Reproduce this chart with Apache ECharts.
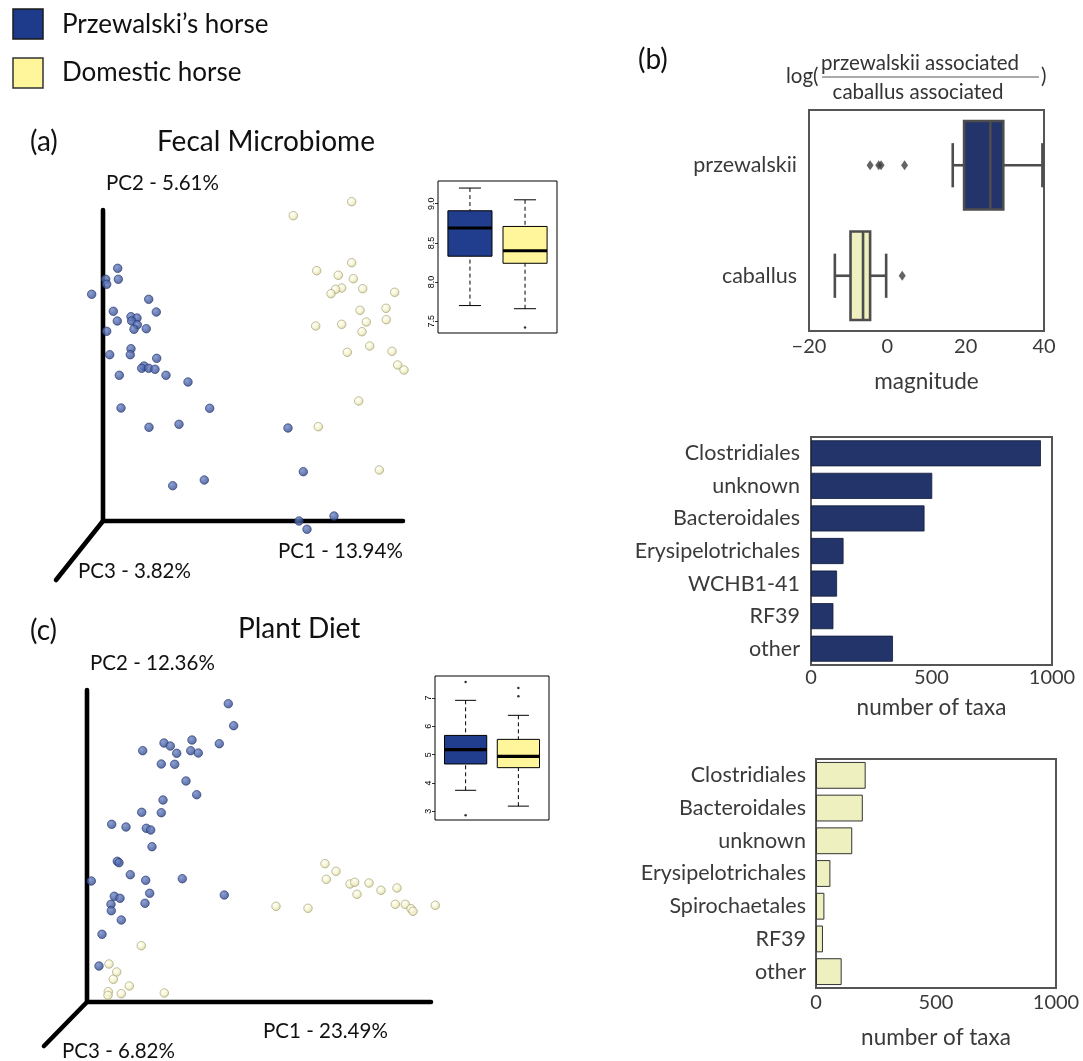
<!DOCTYPE html>
<html>
<head>
<meta charset="utf-8">
<script src="https://cdn.jsdelivr.net/npm/echarts@6/dist/echarts.min.js"></script>
<style>html,body{margin:0;padding:0;background:#fff}#main{width:1083px;height:1061px}</style>
</head>
<body>
<div id="main"></div>
<script>
// ---------------- DATA ----------------
const legendNames = ['Przewalski\u2019s horse', 'Domestic horse'];

// (a) Fecal microbiome PCoA, projected coordinates (origin at axes corner)
const fecalPrzewalski = [
  [14.7,252.7],[2.7,241.7],[15.3,241.7],[3.7,236.7],[-11.3,226.7],[45.7,221.7],[10.3,209.7],[53.3,209],
  [28,204.3],[34,203],[14.3,200],[28.7,200],[34.3,196.3],[31,191.7],[43.3,192.3],[3.7,189.7],
  [28,172.3],[27.3,166.3],[6.7,166.3],[53.7,162.7],[41,155],[38.7,152.7],[45.7,152.7],[52,151.7],
  [16.3,145.7],[63,145.7],[85,139],[18,113],[106.7,112.7],[46,93.7],[76,96.7],[69.7,35.3],
  [101.3,41],[185,93],[200.3,49.3],[231,5],[196,0],[204,-8.3]
];
const fecalDomestic = [
  [248.7,319.3],[190.3,305.3],[248.7,258.3],[213.7,250.3],[235.3,245.7],[250.3,242.3],[238.7,233],
  [232.7,231.7],[259.7,232.3],[228,227.3],[291.7,228.7],[257,210.7],[283,212.7],[283.3,201.3],
  [263.3,199],[212.7,195],[238.7,196.7],[259,189.3],[266.7,175],[244.3,168.7],[289,169.7],
  [294.7,156],[301,151],[255.7,120],[215.3,94.3],[276.3,51]
];
const fecalAxesMain = [[0,311],[0,0],[300,0]];
const fecalAxesDiag = [[0,0],[-47,-59]];

// (c) Plant diet PCoA
const dietPrzewalski = [
  [141.3,298.3],[146.7,276.3],[77,259],[83.3,256],[105,262],[132.3,258.3],[55.7,251.3],[89.7,248.7],
  [103.7,251.3],[111.3,249],[74.3,238],[87.7,237.7],[99,221],[109.7,207.3],[76,202],[54.7,189.7],
  [74.3,189.3],[24.7,177.7],[39,175],[59.3,173.7],[63.7,172],[65,155.3],[30.3,140.7],[32,139.3],
  [43.3,127.3],[4.3,121],[58.7,121.7],[95.3,123.3],[27.3,105.7],[33,103.7],[62.7,108.7],[137.3,107],
  [24,97.7],[24.3,91.3],[58,98.7],[34.3,82],[15,67.7],[12,36]
];
const dietDomestic = [
  [238,138.3],[249,130.7],[239.3,122.7],[263,118],[267.7,119.7],[282,119],[294,111.7],[310,114],
  [270,107.7],[189,95.7],[221,93.7],[308.3,97.7],[318.3,97.7],[324,93.3],[326,90.7],[348.3,96.7],
  [54.3,56.3],[22,38],[29.7,30],[26.3,22.7],[42.3,16],[21.3,10.3],[21,6.7],[34.3,8.3],[77.3,9]
];
const dietAxesMain = [[0,312],[0,0],[344,0]];
const dietAxesDiag = [[0,0],[-43,-44]];

// inset boxplots: [group, min, q1, median, q3, max]
const fecalBox = [[1,7.70,8.33,8.69,8.91,9.20],[2,7.66,8.24,8.40,8.71,9.05]];
const fecalOutliers = [[2,7.42]];
const fecalTicks = [7.5,8.0,8.5,9.0];
const dietBox = [[1,3.74,4.67,5.18,5.68,6.92],[2,3.18,4.54,4.94,5.54,6.39]];
const dietOutliers = [[1,7.57],[1,2.86],[2,7.36],[2,7.06]];
const dietTicks = [3,4,5,6,7];

// (b) log-ratio boxplot: [categoryIndex, min, q1, median, q3, max]
const ratioCategories = ['przewalskii','caballus'];
const ratioBox = [[0,16.7,19.6,26.3,29.6,39.6],[1,-13.4,-9.4,-6.2,-4.4,-0.3]];
const ratioOutliers = [[-4.4,0],[-2.2,0],[-1.6,0],[4.4,0],[3.8,1]];

// taxa counts
const przTaxaCats = ['Clostridiales','unknown','Bacteroidales','Erysipelotrichales','WCHB1-41','RF39','other'];
const przTaxaVals = [954,503,471,135,108,93,340];
const cabTaxaCats = ['Clostridiales','Bacteroidales','unknown','Erysipelotrichales','Spirochaetales','RF39','other'];
const cabTaxaVals = [207,195,151,60,35,29,107];

// ---------------- CHART ----------------
const FONT = 'Lato, "Open Sans", sans-serif';
const BLUE_SPHERE = {type:'radial',x:0.38,y:0.35,r:0.75,colorStops:[{offset:0,color:'#7188c6'},{offset:0.55,color:'#4660a5'},{offset:1,color:'#283d7c'}]};
const YEL_SPHERE = {type:'radial',x:0.38,y:0.35,r:0.75,colorStops:[{offset:0,color:'#ffffff'},{offset:0.5,color:'#f4f2c8'},{offset:1,color:'#c3c093'}]};

function rBox(colors){
  return function(params, api){
    const x = api.value(0), lo = api.value(1), q1 = api.value(2), med = api.value(3), q3 = api.value(4), hi = api.value(5);
    const hw = 0.4, cw = 0.2;
    const a = api.coord([x-hw, q3]), b = api.coord([x+hw, q1]);
    const m1 = api.coord([x-hw, med]), m2 = api.coord([x+hw, med]);
    const c = v => api.coord([x, v]);
    const cl = api.coord([x-cw, lo]), cr = api.coord([x+cw, lo]);
    const hl = api.coord([x-cw, hi]), hr = api.coord([x+cw, hi]);
    const dash = {stroke:'#000', lineWidth:1, lineDash:[4,3]};
    const solid = {stroke:'#000', lineWidth:1};
    return {type:'group', children:[
      {type:'line', shape:{x1:c(hi)[0],y1:c(hi)[1],x2:c(q3)[0],y2:c(q3)[1]}, style:dash},
      {type:'line', shape:{x1:c(lo)[0],y1:c(lo)[1],x2:c(q1)[0],y2:c(q1)[1]}, style:dash},
      {type:'line', shape:{x1:hl[0],y1:hl[1],x2:hr[0],y2:hr[1]}, style:solid},
      {type:'line', shape:{x1:cl[0],y1:cl[1],x2:cr[0],y2:cr[1]}, style:solid},
      {type:'rect', shape:{x:a[0],y:a[1],width:b[0]-a[0],height:b[1]-a[1]}, style:{fill:colors[params.dataIndex], stroke:'#000', lineWidth:1}},
      {type:'line', shape:{x1:m1[0],y1:m1[1],x2:m2[0],y2:m2[1]}, style:{stroke:'#000', lineWidth:3.2}}
    ]};
  };
}

function sbBox(colors){
  return function(params, api){
    const k = api.value(0), lo = api.value(1), q1 = api.value(2), med = api.value(3), q3 = api.value(4), hi = api.value(5);
    const band = api.size([0,1])[1];
    const hh = band*0.4, ch = band*0.2;
    const p = v => api.coord([v, k]);
    const st = {stroke:'#4d4d4d', lineWidth:2.6};
    const P1 = p(q1), P3 = p(q3), PM = p(med), PL = p(lo), PH = p(hi);
    return {type:'group', children:[
      {type:'line', shape:{x1:PL[0],y1:PL[1],x2:P1[0],y2:P1[1]}, style:st},
      {type:'line', shape:{x1:P3[0],y1:P3[1],x2:PH[0],y2:PH[1]}, style:st},
      {type:'line', shape:{x1:PL[0],y1:PL[1]-ch,x2:PL[0],y2:PL[1]+ch}, style:st},
      {type:'line', shape:{x1:PH[0],y1:PH[1]-ch,x2:PH[0],y2:PH[1]+ch}, style:st},
      {type:'rect', shape:{x:P1[0],y:P1[1]-hh,width:P3[0]-P1[0],height:2*hh}, style:{fill:colors[params.dataIndex], stroke:'#4d4d4d', lineWidth:2.6}},
      {type:'line', shape:{x1:PM[0],y1:PM[1]-hh,x2:PM[0],y2:PM[1]+hh}, style:st}
    ]};
  };
}

const hiddenVal = (min,max,gi) => ({type:'value', gridIndex:gi, min:min, max:max, show:false, splitLine:{show:false}});

function insetY(gi,min,max,ticks,dec){
  return {type:'value', gridIndex:gi, min:min, max:max, splitLine:{show:false},
    axisLine:{show:false},
    axisTick:{show:true, length:3, customValues:ticks, lineStyle:{color:'#000', width:0.8}},
    axisLabel:{customValues:ticks, rotate:90, fontSize:9, color:'#000', margin:2, fontFamily:'"Liberation Sans", Arial, sans-serif',
      formatter: v => Number(v).toFixed(dec)}};
}

const sbText = {fontFamily:FONT, fontSize:21.5, color:'#3a3a3a'};
const sbTick = {fontFamily:FONT, fontSize:20, color:'#3a3a3a'};
const sbName = {fontFamily:FONT, fontSize:22.5, color:'#3a3a3a'};

function txt(str, x, y, size, fill, align){
  return {type:'text', x:x, y:y, style:{text:str, font:size+'px '+FONT, fill:fill||'#111', verticalAlign:'middle', align:align||'left'}};
}

const option = {
  backgroundColor:'#fff',
  animation:false,
  textStyle:{fontFamily:FONT},
  grid:[
    {left:43, top:191, width:380, height:400},                                   // 0 fecal scatter
    {left:438, top:181, width:119, height:152, show:true, borderColor:'#000', borderWidth:1, backgroundColor:'#fff'}, // 1 fecal inset
    {left:37, top:677, width:420, height:380},                                   // 2 diet scatter
    {left:435, top:676, width:114, height:144, show:true, borderColor:'#000', borderWidth:1, backgroundColor:'#fff'}, // 3 diet inset
    {left:809, top:110, width:235, height:221, show:true, borderColor:'#555', borderWidth:2}, // 4 ratio box
    {left:811, top:437, width:241, height:228, show:true, borderColor:'#555', borderWidth:2}, // 5 prz bars
    {left:816, top:759, width:240, height:229, show:true, borderColor:'#555', borderWidth:2}  // 6 cab bars
  ],
  xAxis:[
    hiddenVal(-60,320,0),
    hiddenVal(0.42,2.58,1),
    hiddenVal(-50,370,2),
    hiddenVal(0.42,2.58,3),
    {type:'value', gridIndex:4, min:-20, max:40, interval:20, splitLine:{show:false}, axisLine:{show:false}, axisTick:{show:false},
      axisLabel:Object.assign({margin:6, formatter:v=>String(v).replace('-','\u2212')}, sbTick),
      name:'magnitude', nameLocation:'middle', nameGap:39, nameTextStyle:sbName},
    {type:'value', gridIndex:5, min:0, max:1000, interval:500, splitLine:{show:false}, axisLine:{show:false}, axisTick:{show:false},
      axisLabel:Object.assign({margin:3, formatter:v=>String(v)}, sbTick),
      name:'number of taxa', nameLocation:'middle', nameGap:31, nameTextStyle:sbName},
    {type:'value', gridIndex:6, min:0, max:1000, interval:500, splitLine:{show:false}, axisLine:{show:false}, axisTick:{show:false},
      axisLabel:Object.assign({margin:5, formatter:v=>String(v)}, sbTick),
      name:'number of taxa', nameLocation:'middle', nameGap:38, nameTextStyle:sbName}
  ],
  yAxis:[
    hiddenVal(-70,330,0),
    insetY(1,7.35,9.29,fecalTicks,1),
    hiddenVal(-55,325,2),
    insetY(3,2.69,7.78,dietTicks,0),
    {type:'category', gridIndex:4, data:ratioCategories, inverse:true, axisLine:{show:false}, axisTick:{show:false},
      axisLabel:Object.assign({margin:12}, sbText)},
    {type:'category', gridIndex:5, data:przTaxaCats, inverse:true, axisLine:{show:false}, axisTick:{show:false},
      axisLabel:Object.assign({margin:11}, sbText)},
    {type:'category', gridIndex:6, data:cabTaxaCats, inverse:true, axisLine:{show:false}, axisTick:{show:false},
      axisLabel:Object.assign({margin:10}, sbText)}
  ],
  series:[
    {type:'line', name:'fecal-axes', xAxisIndex:0, yAxisIndex:0, data:fecalAxesMain, symbol:'none', z:1, silent:true,
      lineStyle:{color:'#000', width:4.6, cap:'round', join:'miter'}},
    {type:'line', name:'fecal-axes-d', xAxisIndex:0, yAxisIndex:0, data:fecalAxesDiag, symbol:'none', z:1, silent:true,
      lineStyle:{color:'#000', width:4.6, cap:'round'}},
    {type:'scatter', name:legendNames[0], xAxisIndex:0, yAxisIndex:0, data:fecalPrzewalski, symbolSize:8.5, z:3,
      itemStyle:{color:BLUE_SPHERE, borderColor:'#22336a', borderWidth:0.8}},
    {type:'scatter', name:legendNames[1], xAxisIndex:0, yAxisIndex:0, data:fecalDomestic, symbolSize:8.5, z:3,
      itemStyle:{color:YEL_SPHERE, borderColor:'#a09d70', borderWidth:0.8}},
    {type:'custom', name:'fecal-box', xAxisIndex:1, yAxisIndex:1, data:fecalBox, renderItem:rBox(['#213e8e','#fff59a']),
      encode:{x:0, y:[1,2,3,4,5]}, z:5},
    {type:'scatter', name:'fecal-out', xAxisIndex:1, yAxisIndex:1, data:fecalOutliers, symbolSize:2.5, itemStyle:{color:'#000'}, z:6},
    {type:'line', name:'diet-axes', xAxisIndex:2, yAxisIndex:2, data:dietAxesMain, symbol:'none', z:1, silent:true,
      lineStyle:{color:'#000', width:4.6, cap:'round', join:'miter'}},
    {type:'line', name:'diet-axes-d', xAxisIndex:2, yAxisIndex:2, data:dietAxesDiag, symbol:'none', z:1, silent:true,
      lineStyle:{color:'#000', width:4.6, cap:'round'}},
    {type:'scatter', name:legendNames[0], xAxisIndex:2, yAxisIndex:2, data:dietPrzewalski, symbolSize:8.5, z:3,
      itemStyle:{color:BLUE_SPHERE, borderColor:'#22336a', borderWidth:0.8}},
    {type:'scatter', name:legendNames[1], xAxisIndex:2, yAxisIndex:2, data:dietDomestic, symbolSize:8.5, z:3,
      itemStyle:{color:YEL_SPHERE, borderColor:'#a09d70', borderWidth:0.8}},
    {type:'custom', name:'diet-box', xAxisIndex:3, yAxisIndex:3, data:dietBox, renderItem:rBox(['#213e8e','#fff59a']),
      encode:{x:0, y:[1,2,3,4,5]}, z:5},
    {type:'scatter', name:'diet-out', xAxisIndex:3, yAxisIndex:3, data:dietOutliers, symbolSize:2.5, itemStyle:{color:'#000'}, z:6},
    {type:'custom', name:'ratio-box', xAxisIndex:4, yAxisIndex:4, data:ratioBox, renderItem:sbBox(['#223469','#eef0c0']),
      encode:{y:0, x:[1,2,3,4,5]}, z:5},
    {type:'scatter', name:'ratio-out', xAxisIndex:4, yAxisIndex:4, data:ratioOutliers, symbol:'diamond', symbolSize:[7,10],
      itemStyle:{color:'#3d3d3d'}, z:6},
    {type:'bar', name:'przewalskii taxa', xAxisIndex:5, yAxisIndex:5, data:przTaxaVals, barCategoryGap:'20%',
      itemStyle:{color:'#22346a', borderColor:'#121c3a', borderWidth:0.8}},
    {type:'bar', name:'caballus taxa', xAxisIndex:6, yAxisIndex:6, data:cabTaxaVals, barCategoryGap:'18%',
      itemStyle:{color:'#eff0bf', borderColor:'#333', borderWidth:1}}
  ],
  graphic:[
    // legend
    {type:'rect', shape:{x:13, y:9, width:30, height:30}, style:{fill:'#1e3a8a', stroke:'#1a1a1a', lineWidth:1.5}},
    {type:'rect', shape:{x:13, y:58, width:30, height:30}, style:{fill:'#fff59a', stroke:'#333', lineWidth:1.5}},
    txt(legendNames[0], 62, 25, 26),
    txt(legendNames[1], 62, 73, 26),
    // panel (a)
    txt('(a)', 30, 142, 28),
    txt('Fecal Microbiome', 157, 142, 28),
    txt('PC2 - 5.61%', 106, 183, 20.5),
    txt('PC1 - 13.94%', 278, 551, 20.5),
    txt('PC3 - 3.82%', 78, 571, 20.5),
    // panel (c)
    txt('(c)', 30, 631, 28),
    txt('Plant Diet', 238, 629, 28),
    txt('PC2 - 12.36%', 90, 663, 20.5),
    txt('PC1 - 23.49%', 263, 1031, 20.5),
    txt('PC3 - 6.82%', 62, 1051, 20.5),
    // panel (b)
    txt('(b)', 638, 60, 28),
    txt('log(', 786, 76, 20.5, '#333'),
    txt('przewalskii associated', 920, 63, 20.5, '#333', 'center'),
    {type:'line', shape:{x1:822, y1:77, x2:1039, y2:77}, style:{stroke:'#555', lineWidth:1}},
    txt('caballus associated', 918, 92, 20.5, '#333', 'center'),
    txt(')', 1041, 76, 20.5, '#333')
  ]
};

const chart = echarts.init(document.getElementById('main'), null, {renderer:'canvas', width:1083, height:1061});
chart.setOption(option);
</script>
</body>
</html>
